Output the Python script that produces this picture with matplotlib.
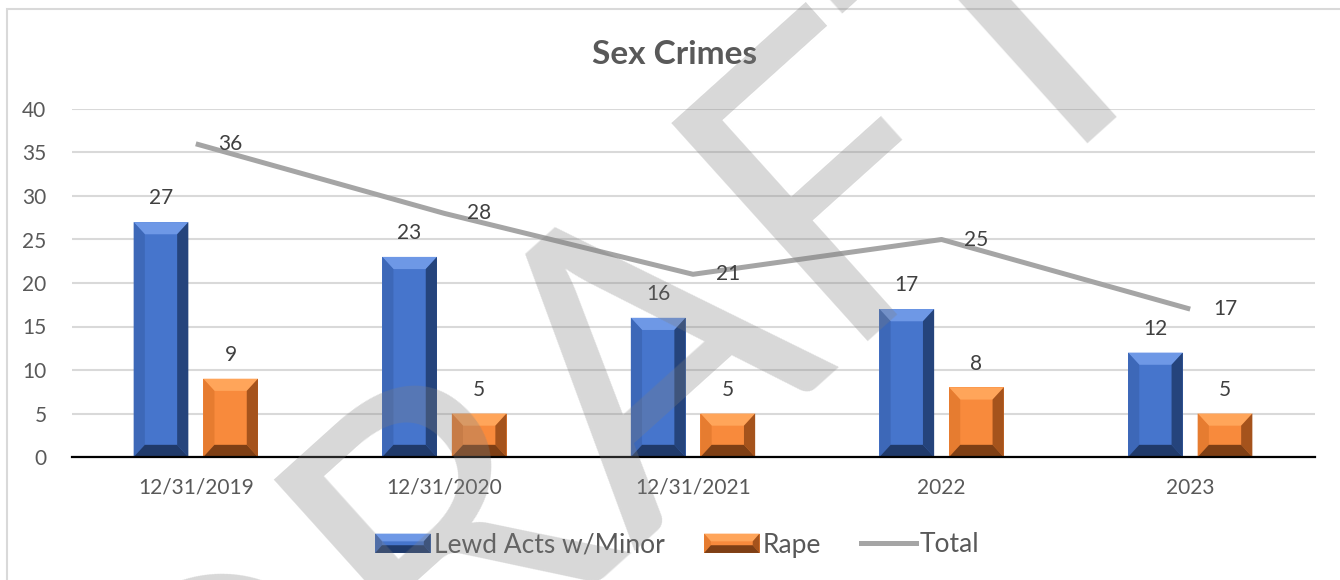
import matplotlib
matplotlib.use("Agg")
import matplotlib.pyplot as plt
from matplotlib.patches import Polygon, Rectangle
from matplotlib.lines import Line2D
from matplotlib.legend_handler import HandlerBase
import numpy as np

categories = ["12/31/2019", "12/31/2020", "12/31/2021", "2022", "2023"]
lewd = [27, 23, 16, 17, 12]
rape = [9, 5, 5, 8, 5]
total = [36, 28, 21, 25, 17]
series_names = ["Lewd Acts w/Minor", "Rape", "Total"]
title = "Sex Crimes"
yticks = [0, 5, 10, 15, 20, 25, 30, 35, 40]
watermark = "DRAFT"

FONT = "Lato"
TXT = "#595959"

fig = plt.figure(figsize=(13.4, 5.8), dpi=100)
W, H = 1340, 580
# chart border
fig.patches.append(Rectangle((7 / W, -0.1), 1.2, (H - 9) / H + 0.1, transform=fig.transFigure,
                             fill=False, edgecolor="#d9d9d9", linewidth=1.5, zorder=0))

ax = fig.add_axes([71.5 / W, (H - 457) / H, (1314.5 - 71.5) / W, (457 - 109) / H])
ax.set_xlim(-0.5, len(categories) - 0.5)
ax.set_ylim(0, 40)
ax.set_yticks(yticks)
ax.yaxis.grid(True, color="#d9d9d9", linewidth=1.5)
ax.set_axisbelow(True)
for s in ["top", "right", "left"]:
    ax.spines[s].set_visible(False)
ax.spines["bottom"].set_color("black")
ax.spines["bottom"].set_linewidth(1.6)
ax.tick_params(length=0, labelsize=15, labelcolor=TXT)
ax.tick_params(axis="x", pad=15)
ax.tick_params(axis="y", pad=18)
ax.set_xticks(range(len(categories)))
ax.set_xticklabels(categories)
for lbl in ax.get_xticklabels() + ax.get_yticklabels():
    lbl.set_fontfamily(FONT)

x = np.arange(len(categories))
bw = 0.22
off = 0.14
bx = 0.045
by = 1.4

styles = {
    "blue": dict(face="#4675cc", top="#6e98e6", left="#3d68b8", right="#25447c", bottom="#203a6a"),
    "orange": dict(face="#f88a3c", top="#ffa55a", left="#e67c30", right="#a5531c", bottom="#7e3f15"),
}


def bevel_polys(x0, x1, y0, y1, ex, ey, st):
    return [
        ([(x0, y1), (x1, y1), (x1 - ex, y1 - ey), (x0 + ex, y1 - ey)], st["top"]),
        ([(x0, y0), (x0, y1), (x0 + ex, y1 - ey), (x0 + ex, y0 + ey)], st["left"]),
        ([(x1, y0), (x1, y1), (x1 - ex, y1 - ey), (x1 - ex, y0 + ey)], st["right"]),
        ([(x0, y0), (x1, y0), (x1 - ex, y0 + ey), (x0 + ex, y0 + ey)], st["bottom"]),
    ]


def bevel_bars(xs, vals, st):
    bars = ax.bar(xs, vals, width=bw, color=st["face"], zorder=2, linewidth=0)
    for b in bars:
        x0 = b.get_x()
        x1 = x0 + b.get_width()
        for pts, c in bevel_polys(x0, x1, 0, b.get_height(), bx, by, st):
            ax.add_patch(Polygon(pts, closed=True, facecolor=c, edgecolor="none", zorder=2.1))
    return bars


class BevelHandler(HandlerBase):
    def __init__(self, st):
        super().__init__()
        self.st = st

    def create_artists(self, legend, orig_handle, xdescent, ydescent, width, height, fontsize, trans):
        x0, y0 = -xdescent, -ydescent
        x1, y1 = x0 + width, y0 + height
        arts = [Rectangle((x0, y0), width, height, facecolor=self.st["face"], edgecolor="none")]
        for pts, c in bevel_polys(x0, x1, y0, y1, height * 0.35, height * 0.4, self.st):
            arts.append(Polygon(pts, closed=True, facecolor=c, edgecolor="none"))
        for a in arts:
            a.set_transform(trans)
        return arts


bevel_bars(x - off, lewd, styles["blue"])
bevel_bars(x + off, rape, styles["orange"])
ax.plot(x, total, color="#a5a5a5", linewidth=3.6, zorder=3, solid_capstyle="butt")

for xi, v in zip(x - off, lewd):
    ax.annotate(str(v), (xi, v), xytext=(0, 10), textcoords="offset points", ha="center",
                va="bottom", fontsize=15, color="#404040", family=FONT)
for xi, v in zip(x + off, rape):
    ax.annotate(str(v), (xi, v), xytext=(0, 10), textcoords="offset points", ha="center",
                va="bottom", fontsize=15, color="#404040", family=FONT)
for xi, v in zip(x, total):
    ax.annotate(str(v), (xi, v), xytext=(25, 0), textcoords="offset points", ha="center",
                va="center", fontsize=15, color="#404040", family=FONT)

fig.text(675 / W, 1 - 55 / H, title, ha="center", va="center", fontsize=24,
         fontweight="bold", color=TXT, family=FONT)

h_blue = Rectangle((0, 0), 1, 1)
h_orange = Rectangle((0, 0), 1, 1)
h_line = Line2D([0], [0], color="#a5a5a5", linewidth=3.6)
leg = fig.legend([h_blue, h_orange, h_line], series_names, loc="center",
                 bbox_to_anchor=(677 / W, 1 - 545 / H),
                 ncol=3, frameon=False, prop={"family": FONT, "size": 19},
                 handlelength=2.1, handleheight=0.75, handletextpad=0.12, columnspacing=1.5,
                 handler_map={h_blue: BevelHandler(styles["blue"]),
                              h_orange: BevelHandler(styles["orange"])})
for t in leg.get_texts():
    t.set_color(TXT)

# DRAFT watermark
fig.text(615 / W, 1 - 378 / H, watermark, ha="center", va="center", rotation_mode="anchor",
         rotation=42, color="#7f7f7f", alpha=0.3, family=FONT, fontsize=295, zorder=10)

fig.savefig("out.png", dpi=100)
